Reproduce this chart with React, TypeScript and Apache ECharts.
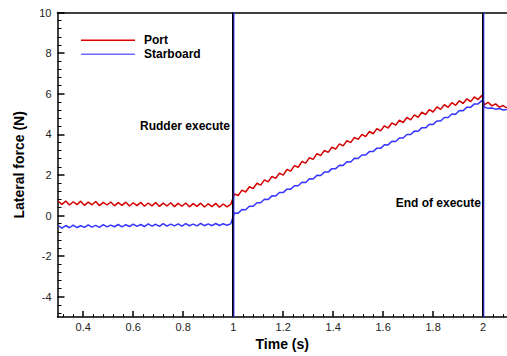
import { useEffect, useRef } from "react";
import * as echarts from "echarts";

// Sample times (s)
const flatTimes = [0.300,0.315,0.330,0.345,0.360,0.375,0.390,0.405,0.420,0.435,0.450,0.465,0.480,0.495,0.510,0.525,0.540,0.555,0.570,0.585,0.600,0.615,0.630,0.645,0.660,0.675,0.690,0.705,0.720,0.735,0.750,0.765,0.780,0.795,0.810,0.825,0.840,0.855,0.870,0.885,0.900,0.915,0.930,0.945,0.960,0.975,0.990];
const riseTimes = [1.005,1.020,1.035,1.050,1.065,1.080,1.095,1.110,1.125,1.140,1.155,1.170,1.185,1.200,1.215,1.230,1.245,1.260,1.275,1.290,1.305,1.320,1.335,1.350,1.365,1.380,1.395,1.410,1.425,1.440,1.455,1.470,1.485,1.500,1.515,1.530,1.545,1.560,1.575,1.590,1.605,1.620,1.635,1.650,1.665,1.680,1.695,1.710,1.725,1.740,1.755,1.770,1.785,1.800,1.815,1.830,1.845,1.860,1.875,1.890,1.905,1.920,1.935,1.950,1.965,1.980,1.995];
const postTimes = [2.005,2.020,2.035,2.050,2.065,2.080,2.095];

// Port lateral force (N)
const portFlat = [0.70,0.55,0.72,0.52,0.68,0.54,0.71,0.50,0.66,0.53,0.69,0.49,0.65,0.52,0.67,0.48,0.64,0.50,0.66,0.47,0.63,0.49,0.65,0.46,0.62,0.48,0.64,0.45,0.61,0.47,0.63,0.44,0.60,0.46,0.62,0.43,0.59,0.45,0.61,0.42,0.58,0.44,0.60,0.41,0.57,0.43,0.55];
const portRise = [1.06,0.99,1.25,1.16,1.42,1.33,1.59,1.50,1.76,1.66,1.93,1.83,2.09,1.99,2.27,2.19,2.46,2.38,2.66,2.58,2.85,2.77,3.05,2.95,3.21,3.11,3.37,3.27,3.53,3.43,3.69,3.59,3.85,3.75,4.00,3.89,4.14,4.03,4.28,4.17,4.42,4.31,4.56,4.45,4.70,4.58,4.83,4.71,4.96,4.84,5.09,4.97,5.22,5.10,5.35,5.23,5.46,5.33,5.56,5.43,5.65,5.52,5.75,5.61,5.84,5.71,5.92];
const portPost = [5.45,5.58,5.40,5.50,5.34,5.42,5.30];

// Starboard lateral force (N)
const starFlat = [-0.50,-0.62,-0.49,-0.60,-0.47,-0.59,-0.50,-0.58,-0.46,-0.57,-0.48,-0.58,-0.45,-0.56,-0.47,-0.55,-0.44,-0.56,-0.45,-0.54,-0.42,-0.53,-0.44,-0.54,-0.41,-0.52,-0.43,-0.53,-0.40,-0.52,-0.42,-0.51,-0.41,-0.52,-0.40,-0.50,-0.42,-0.51,-0.39,-0.50,-0.41,-0.50,-0.39,-0.49,-0.40,-0.48,-0.41];
const starRise = [0.13,0.12,0.30,0.29,0.46,0.46,0.63,0.63,0.80,0.79,0.97,0.96,1.14,1.13,1.30,1.30,1.47,1.47,1.64,1.63,1.81,1.80,1.98,1.97,2.14,2.14,2.31,2.31,2.48,2.47,2.65,2.64,2.82,2.81,2.98,2.98,3.15,3.15,3.32,3.31,3.49,3.48,3.66,3.65,3.82,3.82,3.99,3.99,4.16,4.15,4.33,4.32,4.50,4.49,4.66,4.66,4.83,4.83,5.00,4.99,5.17,5.16,5.34,5.33,5.50,5.50,5.67];
const starPost = [5.35,5.28,5.30,5.24,5.27,5.20,5.22];

// Vertical spike in the starboard trace at each event (s, N)
const spikeTimes = [1.003, 1.003, 2.003, 2.003];
const spikeValues = [-6, 11, 11, -6];

// Event markers
const eventTimes = [1, 2];
const eventLabels = ["Rudder execute", "End of execute"];

// Axis ticks
const xMajorTicks = [0.4, 0.6, 0.8, 1.0, 1.2, 1.4, 1.6, 1.8, 2.0];
const xMinorTicks = [0.32,0.36,0.44,0.48,0.52,0.56,0.64,0.68,0.72,0.76,0.84,0.88,0.92,0.96,1.04,1.08,1.12,1.16,1.24,1.28,1.32,1.36,1.44,1.48,1.52,1.56,1.64,1.68,1.72,1.76,1.84,1.88,1.92,1.96,2.04,2.08];
const yMajorTicks = [-4, -2, 0, 2, 4, 6, 8, 10];
const yMinorTicks = [-4.8,-4.4,-3.6,-3.2,-2.8,-2.4,-1.6,-1.2,-0.8,-0.4,0.4,0.8,1.2,1.6,2.4,2.8,3.2,3.6,4.4,4.8,5.2,5.6,6.4,6.8,7.2,7.6,8.4,8.8,9.2,9.6];

const FONT = "'Liberation Sans', Arial, Helvetica, sans-serif";
const X_MIN = 0.297;
const X_MAX = 2.0956;
const Y_MIN = -5;
const Y_MAX = 10;

function zip(ts: number[], vs: number[]) {
  return ts.map((t, i) => [t, vs[i]]);
}

export default function App() {
  const ref = useRef<HTMLDivElement>(null);

  useEffect(() => {
    if (!ref.current) return;
    const chart = echarts.init(ref.current, null, { renderer: "svg" });

    const portData = [
      ...zip(flatTimes, portFlat),
      ...zip(riseTimes, portRise),
      ...zip(postTimes, portPost),
    ];
    const starData = [
      ...zip(flatTimes, starFlat),
      ...zip(riseTimes, starRise),
      ...zip(postTimes, starPost),
    ];
    const spikeData: any[] = [
      [spikeTimes[0], spikeValues[0]],
      [spikeTimes[1], spikeValues[1]],
      "-",
      [spikeTimes[2], spikeValues[2]],
      [spikeTimes[3], spikeValues[3]],
    ];

    const axisBase = {
      type: "value" as const,
      min: X_MIN,
      max: X_MAX,
      splitLine: { show: false },
      gridIndex: 0,
    };
    const yBase = {
      type: "value" as const,
      min: Y_MIN,
      max: Y_MAX,
      splitLine: { show: false },
      gridIndex: 0,
    };

    chart.setOption({
      animation: false,
      backgroundColor: "#ffffff",
      grid: { left: 57.5, top: 12.5, width: 451.5, height: 310.2, containLabel: false },
      legend: {
        orient: "vertical",
        left: 81,
        top: 33.3,
        padding: 0,
        itemGap: 0,
        itemWidth: 54,
        itemHeight: 1.5,
        icon: "rect",
        data: ["Port", "Starboard"],
        textStyle: {
          fontFamily: FONT,
          fontSize: 12,
          fontWeight: "bold",
          color: "#000",
          lineHeight: 14,
          padding: [0, 0, 0, 4],
        },
      },
      xAxis: [
        {
          ...axisBase,
          position: "bottom",
          name: "Time (s)",
          nameLocation: "middle",
          nameGap: 19,
          nameTextStyle: { fontFamily: FONT, fontSize: 14, fontWeight: "bold", color: "#000" },
          axisLine: { show: true, onZero: false, lineStyle: { color: "#000", width: 1.5 } },
          axisTick: {
            show: true,
            inside: true,
            length: 6,
            lineStyle: { color: "#000", width: 1.5 },
            customValues: xMajorTicks,
          },
          axisLabel: {
            show: true,
            margin: 4,
            fontFamily: FONT,
            fontSize: 11,
            color: "#222",
            customValues: xMajorTicks,
            formatter: (v: number) => String(Number(v.toFixed(1))),
          },
        },
        {
          ...axisBase,
          position: "bottom",
          axisLine: { show: false, onZero: false },
          axisLabel: { show: false },
          axisTick: {
            show: true,
            inside: true,
            length: 3,
            lineStyle: { color: "#000", width: 1 },
            customValues: xMinorTicks,
          },
        },
        {
          ...axisBase,
          position: "top",
          axisLine: { show: true, onZero: false, lineStyle: { color: "#000", width: 1.5 } },
          axisLabel: { show: false },
          axisTick: { show: false },
        },
      ],
      yAxis: [
        {
          ...yBase,
          position: "left",
          name: "Lateral force (N)",
          nameLocation: "middle",
          nameGap: 32,
          nameTextStyle: { fontFamily: FONT, fontSize: 14, fontWeight: "bold", color: "#000" },
          axisLine: { show: true, onZero: false, lineStyle: { color: "#000", width: 1.5 } },
          axisTick: {
            show: true,
            inside: true,
            length: 7,
            lineStyle: { color: "#000", width: 1.5 },
            customValues: yMajorTicks,
          },
          axisLabel: {
            show: true,
            margin: 6,
            fontFamily: FONT,
            fontSize: 11,
            color: "#222",
            customValues: yMajorTicks,
          },
        },
        {
          ...yBase,
          position: "left",
          axisLine: { show: false, onZero: false },
          axisLabel: { show: false },
          axisTick: {
            show: true,
            inside: true,
            length: 4,
            lineStyle: { color: "#000", width: 1 },
            customValues: yMinorTicks,
          },
        },
      ],
      graphic: [
        {
          type: "text",
          right: 507 - 230,
          top: 120,
          style: {
            text: eventLabels[0],
            fontFamily: FONT,
            fontSize: 12,
            fontWeight: "bold",
            fill: "#000",
          },
        },
        {
          type: "text",
          right: 507 - 481,
          top: 197,
          style: {
            text: eventLabels[1],
            fontFamily: FONT,
            fontSize: 12,
            fontWeight: "bold",
            fill: "#000",
          },
        },
      ],
      series: [
        {
          name: "Starboard",
          type: "line",
          data: starData,
          showSymbol: false,
          symbol: "none",
          lineStyle: { color: "#3535ff", width: 1.5 },
          itemStyle: { color: "#6b6bff" },
          z: 2,
        },
        {
          name: "Port",
          type: "line",
          data: portData,
          showSymbol: false,
          symbol: "none",
          lineStyle: { color: "#d40000", width: 1.5 },
          itemStyle: { color: "#e00000" },
          z: 3,
        },
        {
          name: "events",
          type: "line",
          data: [],
          z: 4,
          markLine: {
            silent: true,
            symbol: "none",
            label: { show: false },
            lineStyle: { color: "#000", width: 2, type: "solid" },
            data: eventTimes.map((t) => ({ xAxis: t })),
          },
        },
        {
          name: "spike",
          type: "line",
          data: spikeData,
          showSymbol: false,
          symbol: "none",
          connectNulls: false,
          lineStyle: { color: "#3535ff", width: 1 },
          z: 5,
        },
      ],
    });

    return () => chart.dispose();
  }, []);

  return (
    <div
      ref={ref}
      style={{ position: "fixed", left: 0, top: 0, width: 507, height: 356, background: "#fff" }}
    />
  );
}
